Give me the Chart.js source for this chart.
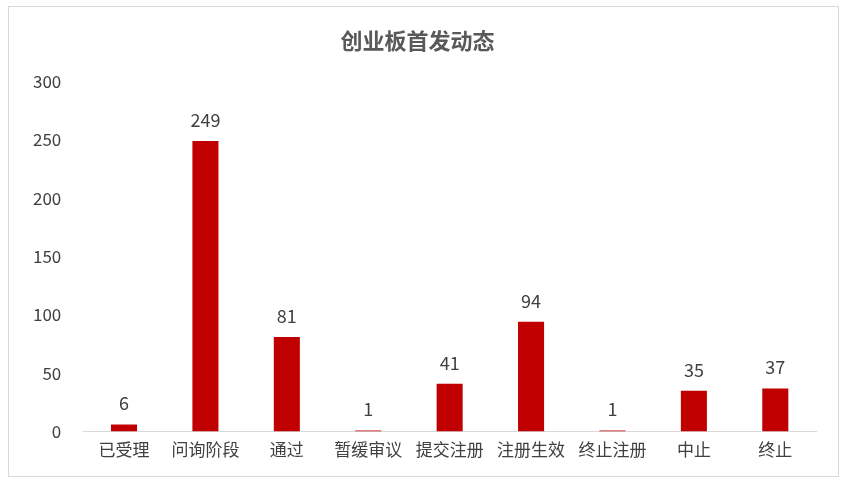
<!DOCTYPE html>
<html><head><meta charset="utf-8">
<script src="https://cdn.jsdelivr.net/npm/chart.js@4/dist/chart.umd.min.js"></script>
<style>
html,body{margin:0;padding:0;background:#fff;}
#wrap{position:absolute;left:8px;top:6px;width:831px;height:471px;border:1px solid #d9d9d9;box-sizing:border-box;}
</style></head><body>
<div id="wrap"><canvas id="c"></canvas></div>
<script>
const categories=["已受理","问询阶段","通过","暂缓审议","提交注册","注册生效","终止注册","中止","终止"];
const values=[6,249,81,1,41,94,1,35,37];
const yTicks=[0,50,100,150,200,250,300];
const font='"Noto Sans CJK SC","Microsoft YaHei",sans-serif';
const labelPlugin={id:'lbl',afterDatasetsDraw(ch){const ctx=ch.ctx;const m=ch.getDatasetMeta(0);ctx.save();ctx.fillStyle='#404040';ctx.font='18px '+font;ctx.textAlign='center';ctx.textBaseline='bottom';m.data.forEach((b,i)=>{ctx.fillText(values[i],b.x,b.y-12);});ctx.restore();}};
new Chart(document.getElementById('c'),{type:'bar',
data:{labels:categories,datasets:[{data:values,backgroundColor:'#C00000',barPercentage:0.32,categoryPercentage:1}]},
options:{responsive:true,maintainAspectRatio:false,animation:false,
layout:{padding:{left:10,right:22,top:8,bottom:8}},
plugins:{legend:{display:false},tooltip:{enabled:false},
title:{display:true,text:'创业板首发动态',color:'#595959',font:{family:font,size:22,weight:'bold'},padding:{top:12,bottom:28}}},
scales:{x:{grid:{display:false,drawTicks:false},border:{color:'#d9d9d9'},ticks:{color:'#404040',font:{family:font,size:17},padding:8,maxRotation:0,autoSkip:false}},
y:{min:0,max:300,afterBuildTicks:a=>{a.ticks=yTicks.map(v=>({value:v}));},grid:{display:false},border:{display:false},ticks:{color:'#404040',font:{family:font,size:17},padding:14}}}},
plugins:[labelPlugin]});
</script></body></html>
